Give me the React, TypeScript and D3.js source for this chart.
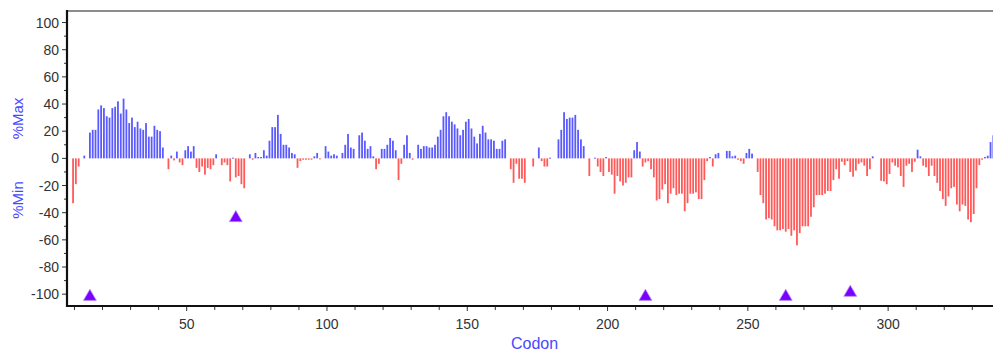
import React, { useEffect, useRef } from "react";
import * as d3 from "d3";

// %MinMax value per codon, starting at codon 10
const firstCodon = 10;
const minMaxValues = [
    -33, -19, -6, 0, 2, 0, 19, 21, 21, 36,
    39, 37, 31, 30, 37, 38, 42, 33, 44, 36,
    26, 30, 23, 27, 22, 21, 26, 16, 16, 24,
    21, 20, 8, 0, -8, 2, -1.5, 5, -3, -5,
    6, 9, 5, 9, -7, -10, -6, -12, -7, -8,
    -5, 3, 0, -5, -3, -5, -17, 0.5, -14, -13,
    -19, -22, 0, 3, -1, 4, 1, 1, 6, 2,
    13, 23, 23, 32, 18, 10, 10, 8, 4, 3,
    -7, -2, -1, -1, -1, -1, 1.5, 4, -0.5, 0,
    9, 5, 2, 3, 2, 0, 4, 10, 18, 8,
    7, 0, 17, 19, 13, 7, 9, 1.5, -8, -4,
    7, 7, 10, 15, 13, 6, -16, -4, 10, 17,
    4, -1, 0, 10, 7, 9, 9, 8, 8, 10,
    16, 21, 31, 34, 31, 27, 25, 22, 17, 21,
    27, 29, 22, 16, 11, 18, 24, 19, 14, 14,
    13, 7, 7, 13, 14, 0, -8, -18, -4, -15,
    -15, -18, 0, 0, -6, 0, 8, -2, -6, -6,
    0.5, 0, 0, 14, 21, 34, 29, 30, 30, 32,
    21, 14, 9, 0, -13, 0, 0.5, -6, -10, -13,
    1, -10, -12, -26, -13, -17, -20, -18, -14, -14,
    6, 12, 5, -6, -3, -2, -8, -14, -31, -30,
    -23, -19, -33, -26, -22, -27, -26, -26, -39, -33,
    -26, -26, -25, -30, -30, -16, -2, 1, -6, 3,
    4, 0, 0, 5.5, 5.5, 1.5, 2, -1, -2, -4,
    4, 7, 3.5, 0, -10, -27, -33, -45, -44, -45,
    -50, -53, -53, -52, -54, -52, -57, -53, -64, -55,
    -50, -50, -50, -43, -36, -27, -27, -27, -26, -24,
    -24, -16, -8, -15, -2.5, -5, -2, -10, -13.5, -9,
    -4, -3, -5.4, -13, -8, 1.5, 0, 0, -16.5, -17,
    -19, -11.5, -3, -5.4, -6.6, -13, -21, -5.4, -4, -10,
    -2.5, 6.4, 1.5, -5.4, -6.6, -13, -5.4, -13, -18, -24,
    -30, -35, -28, -22, -21, -34, -39, -34, -35, -45,
    -47, -41, -22, -5, -1, 1, 2, 12, 17,
];

// rare codon cluster markers
const markerCodons = [16, 68, 214, 264, 287];
const markerValues = [-100, -42, -100, -100, -97];

const xTickValues = [50, 100, 150, 200, 250, 300];
const yTickValues = [-100, -80, -60, -40, -20, 0, 20, 40, 60, 80, 100];

const MinMaxChart: React.FC = () => {
    const svgRef = useRef<SVGSVGElement | null>(null);

    useEffect(() => {
        const width = 993;
        const height = 352;
        const left = 67;
        const right = 997;
        const top = 11;
        const bottom = 306;

        const svg = d3.select(svgRef.current);
        svg.selectAll("*").remove();
        svg.attr("width", width).attr("height", height);

        const x = d3.scaleLinear().domain([7.34, 338.8]).range([left, right]);
        const y = d3.scaleLinear().domain([-108.7, 108.5]).range([bottom, top]);

        const data = minMaxValues.map((v, i) => ({ codon: firstCodon + i, value: v }));

        svg.append("defs")
            .append("clipPath")
            .attr("id", "plot-clip")
            .append("rect")
            .attr("x", left)
            .attr("y", top)
            .attr("width", right - left)
            .attr("height", bottom - top);

        const plot = svg.append("g").attr("clip-path", "url(#plot-clip)");

        // Bars
        const barW = 1.8;
        plot.selectAll("rect.bar")
            .data(data.filter((d) => d.value !== 0))
            .enter()
            .append("rect")
            .attr("class", "bar")
            .attr("x", (d) => x(d.codon - 0.5) - barW / 2)
            .attr("y", (d) => y(Math.max(d.value, 0)))
            .attr("width", barW)
            .attr("height", (d) => Math.max(1, Math.abs(y(d.value) - y(0))))
            .attr("fill", (d) => (d.value > 0 ? "#5a5aff" : "#ff5a5a"));

        // Markers
        const tri = d3.symbol().type(d3.symbolTriangle).size(72);
        plot.selectAll("path.marker")
            .data(markerCodons.map((c, i) => ({ codon: c, value: markerValues[i] })))
            .enter()
            .append("path")
            .attr("class", "marker")
            .attr("d", tri)
            .attr("transform", (d) => `translate(${x(d.codon - 0.5)},${y(d.value) + 2.5})`)
            .attr("fill", "#7a00ff")
            .attr("stroke", "#b58cff")
            .attr("stroke-width", 0.8);

        // Frame
        svg.append("line")
            .attr("x1", left).attr("x2", right)
            .attr("y1", top).attr("y2", top)
            .attr("stroke", "#666").attr("stroke-width", 1.6);

        // Y axis
        const yAxis = svg.append("g");
        d3.range(-100, 101, 10).forEach((v) => {
            const major = v % 20 === 0;
            yAxis.append("line")
                .attr("x1", left - (major ? 5 : 3)).attr("x2", left)
                .attr("y1", y(v)).attr("y2", y(v))
                .attr("stroke", "#333").attr("stroke-width", 1);
        });
        yAxis.selectAll("text")
            .data(yTickValues)
            .enter()
            .append("text")
            .attr("x", left - 8)
            .attr("y", (d) => y(d) + 5)
            .attr("text-anchor", "end")
            .attr("font-family", "Liberation Sans, Arial, sans-serif")
            .attr("font-size", 14)
            .attr("fill", "#333")
            .text((d) => d);
        yAxis.append("line")
            .attr("x1", left).attr("x2", left)
            .attr("y1", top - 1).attr("y2", bottom + 1)
            .attr("stroke", "#111").attr("stroke-width", 2.2);

        // X axis
        const xAxis = svg.append("g");
        d3.range(10, 340, 10).forEach((c) => {
            const major = c % 50 === 0;
            xAxis.append("line")
                .attr("x1", x(c)).attr("x2", x(c))
                .attr("y1", bottom).attr("y2", bottom + (major ? 5 : 4))
                .attr("stroke", "#333").attr("stroke-width", 1);
        });
        xAxis.selectAll("text")
            .data(xTickValues)
            .enter()
            .append("text")
            .attr("x", (d) => x(d))
            .attr("y", 329)
            .attr("text-anchor", "middle")
            .attr("font-family", "Liberation Sans, Arial, sans-serif")
            .attr("font-size", 14)
            .attr("fill", "#333")
            .text((d) => d);
        xAxis.append("line")
            .attr("x1", left - 1).attr("x2", right)
            .attr("y1", bottom).attr("y2", bottom)
            .attr("stroke", "#111").attr("stroke-width", 2.2);

        // Axis titles
        svg.append("text")
            .attr("x", 534.6)
            .attr("y", 349)
            .attr("text-anchor", "middle")
            .attr("font-family", "Liberation Sans, Arial, sans-serif")
            .attr("font-size", 16)
            .attr("fill", "#4848ff")
            .text("Codon");

        [
            { label: "%Max", cy: 118.5 },
            { label: "%Min", cy: 200 },
        ].forEach((t) => {
            svg.append("text")
                .attr("transform", `translate(22.5,${t.cy}) rotate(-90)`)
                .attr("text-anchor", "middle")
                .attr("font-family", "Liberation Sans, Arial, sans-serif")
                .attr("font-size", 15)
                .attr("fill", "#4848ff")
                .text(t.label);
        });
    }, []);

    return <svg ref={svgRef} style={{ position: "absolute", left: 0, top: 0 }} />;
};

export default function App() {
    return <MinMaxChart />;
}
